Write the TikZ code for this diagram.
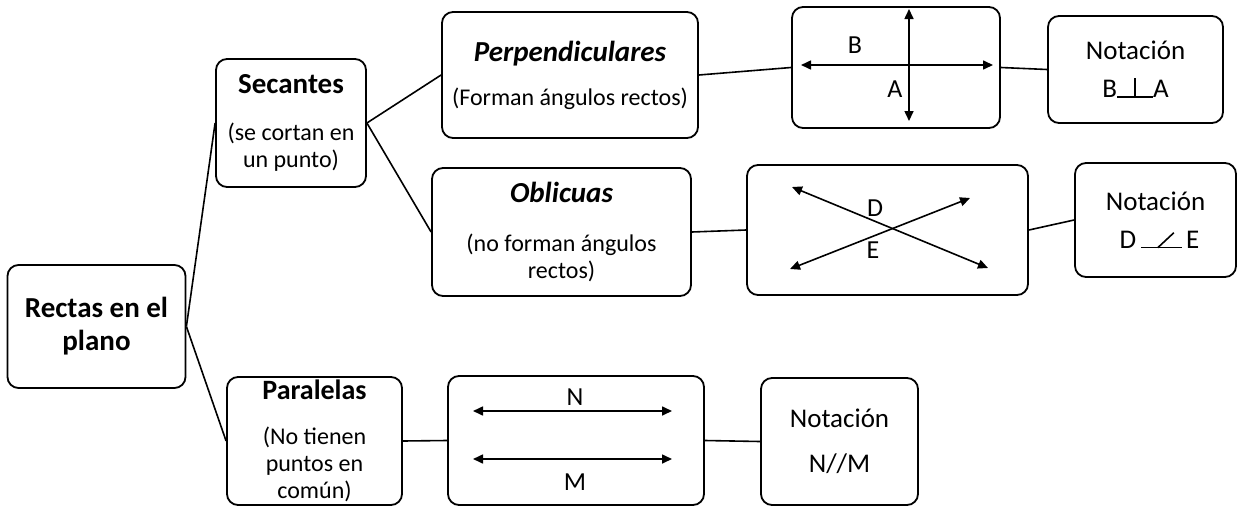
\documentclass[tikz,border=0pt]{standalone}
\usepackage{fontspec}
\setmainfont{Carlito}
\usepackage{graphicx}
\usetikzlibrary{arrows.meta}
\begin{document}
\begin{tikzpicture}[x=1pt,y=-1pt,
  box/.style={draw, line width=1.8pt, rounded corners=11pt, align=center, inner sep=0pt},
  link/.style={line width=1.6pt},
  dbl/.style={line width=1.6pt, {Triangle[length=10pt,width=9pt]}-{Triangle[length=10pt,width=9pt]}},
  reg/.style={font=\fontsize{24}{27}\selectfont},
  notef/.style={font=\fontsize{27}{38}\selectfont},
  lbl/.style={font=\fontsize{26}{30}\selectfont, inner sep=0pt},
  ttl/.style={font=\fontsize{29}{33}\selectfont\bfseries},
]
\useasboundingbox (0,0) rectangle (1238,506);

% main boxes
\node[box, ttl, minimum width=178pt, minimum height=123pt] (rectas) at (96.5,326.5) {Rectas en el\\plano};
\node[box, reg, minimum width=150pt, minimum height=128pt] (sec) at (291,123)
  {{\fontsize{29}{27}\selectfont\bfseries Secantes}\\[20pt](se cortan en\\un punto)};
\node[box, reg, minimum width=256pt, minimum height=126pt] (perp) at (570,75)
  {{\fontsize{29}{27}\selectfont\bfseries\itshape Perpendiculares}\\[17pt](Forman ángulos rectos)};
\node[box, reg, minimum width=259pt, minimum height=128pt] (obl) at (561.5,232)
  {{\fontsize{29}{27}\selectfont\bfseries\itshape Oblicuas}\\[22pt](no forman ángulos\\rectos)};
\node[box, reg, minimum width=175pt, minimum height=128pt] (par) at (314.5,441)
  {{\fontsize{28}{27}\selectfont\bfseries Paralelas}\\[18pt](No tienen\\puntos en\\común)};

% diagram boxes
\node[box, minimum width=208pt, minimum height=121pt] (perpdiag) at (896,67.5) {};
\node[box, minimum width=281pt, minimum height=130pt] (obldiag) at (887.5,230) {};
\node[box, minimum width=256pt, minimum height=129pt] (pardiag) at (576,440.5) {};

% notation boxes
\node[box, notef, minimum width=175pt, minimum height=107pt] (not1) at (1135.5,69.5)
  {Notación\\B\rlap{\rule{36pt}{1.6pt}}\hspace{17.2pt}\rule{1.6pt}{20pt}\hspace{17.2pt}A};
\node[box, notef, minimum width=161pt, minimum height=114pt] (not2) at (1155.5,220)
  {Notación\\\hspace*{8pt}D\hspace{5pt}\rlap{\rule{41pt}{1.6pt}}\hspace{16pt}\rlap{\rotatebox{43}{\rule{22pt}{1.6pt}}}\hspace{25pt}\hspace{4pt}E};
\node[box, notef, minimum width=157pt, minimum height=127pt] (not3) at (839.5,441.5)
  {Notación\\[7pt]N//M};

% connectors
\draw[link] (rectas.east) -- (sec.west);
\draw[link] (rectas.east) -- (par.west);
\draw[link] (sec.east) -- (perp.west);
\draw[link] (sec.east) -- (obl.west);
\draw[link] (perp.east) -- (perpdiag.west);
\draw[link] (perpdiag.east) -- (not1.west);
\draw[link] (obl.east) -- (obldiag.west);
\draw[link] (obldiag.east) -- (not2.west);
\draw[link] (par.east) -- (pardiag.west);
\draw[link] (pardiag.east) -- (not3.west);

% perpendicular lines
\draw[dbl] (801,65) -- (993,65);
\draw[dbl] (909,9) -- (909,121);
\node[lbl] (lb) at (855,45) {B};
\node[lbl] (la) at (895,89) {A};

% oblique lines
\draw[dbl] (792,187) -- (988,268);
\draw[dbl] (790,269) -- (970,198);
\node[lbl] (ld) at (875,208) {D};
\node[lbl] (le) at (873,250) {E};

% parallel lines
\draw[dbl] (473,411) -- (672,411);
\draw[dbl] (473,459) -- (672,459);
\node[lbl] (ln) at (575,397) {N};
\node[lbl] (lm) at (575,482) {M};
\end{tikzpicture}
\end{document}
